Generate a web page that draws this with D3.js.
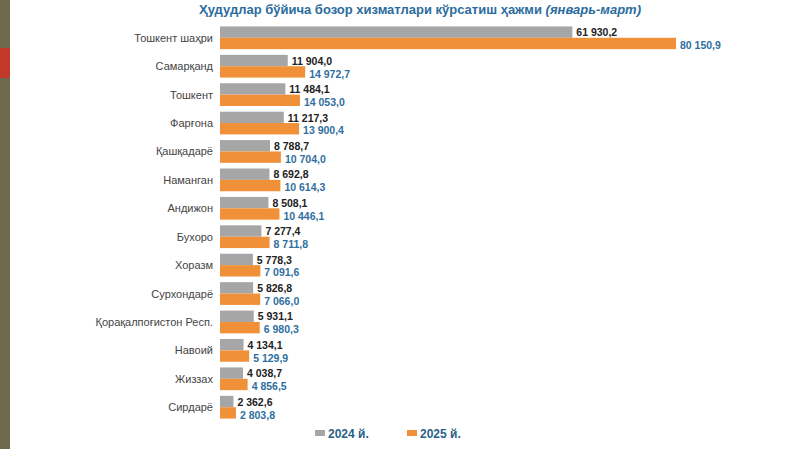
<!DOCTYPE html><html><head><meta charset="utf-8">
<script src="https://cdn.jsdelivr.net/npm/d3@7"></script>
<style>body{margin:0;background:#fff}</style></head><body>
<svg id="c" width="800" height="449"></svg>
<script>
const categories=["Тошкент шаҳри","Самарқанд","Тошкент","Фарғона","Қашқадарё","Наманган","Андижон","Бухоро","Хоразм","Сурхондарё","Қорақалпоғистон Респ.","Навоий","Жиззах","Сирдарё"];
const v2024=[61930.2,11904.0,11484.1,11217.3,8788.7,8692.8,8508.1,7277.4,5778.3,5826.8,5931.1,4134.1,4038.7,2362.6];
const v2025=[80150.9,14972.7,14053.0,13900.4,10704.0,10614.3,10446.1,8711.8,7091.6,7066.0,6980.3,5129.9,4856.5,2803.8];
const series=["2024 й.","2025 й."];
const colors=["#a6a6a6","#f0913a"];
const svg=d3.select("#c");
svg.append("rect").attr("x",0).attr("y",0).attr("width",10).attr("height",449).attr("fill","#6e6a4e");
svg.append("rect").attr("x",0).attr("y",48).attr("width",10).attr("height",30).attr("fill","#c0392b");
const t=svg.append("text").attr("x",420).attr("y",14).attr("text-anchor","middle").attr("font-family","Liberation Sans, Arial").attr("font-size",13).attr("font-weight","bold").attr("fill","#2b6c9e");
t.append("tspan").text("Ҳудудлар бўйича бозор хизматлари кўрсатиш ҳажми ");
t.append("tspan").attr("font-style","italic").text("(январь-март)");
const x=d3.scaleLinear().domain([0,80150.9]).range([220,676]);
const y=d3.scaleBand().domain(categories).range([25,420]).paddingInner(0.2).paddingOuter(0.05);
const fmt=v=>d3.format(",.1f")(v).replace(/,/g," ").replace(".",",");
const g=svg.append("g").attr("font-family","Liberation Sans, Arial");
categories.forEach((c,i)=>{
  const y0=y(c),h=y.bandwidth()/2;
  [v2024[i],v2025[i]].forEach((v,k)=>{
    g.append("rect").attr("x",x(0)).attr("y",y0+k*h).attr("width",x(v)-x(0)).attr("height",h).attr("fill",colors[k]);
    g.append("text").attr("x",x(v)+4).attr("y",y0+k*h+h-1.5+k*1.5).attr("font-size",10.5).attr("font-weight","bold").attr("fill",k?"#2f6f9f":"#222").text(fmt(v));
  });
  g.append("text").attr("x",213).attr("y",y0+h+4).attr("text-anchor","end").attr("font-size",11).attr("fill","#444").text(c);
});
const lg=svg.append("g").attr("font-family","Liberation Sans, Arial").attr("font-size",12).attr("font-weight","bold").attr("fill","#2b5f8a");
series.forEach((s,k)=>{
  const lx=315+k*92;
  lg.append("rect").attr("x",lx).attr("y",430).attr("width",10).attr("height",6).attr("fill",colors[k]);
  lg.append("text").attr("x",lx+13).attr("y",438).text(s);
});
</script></body></html>
